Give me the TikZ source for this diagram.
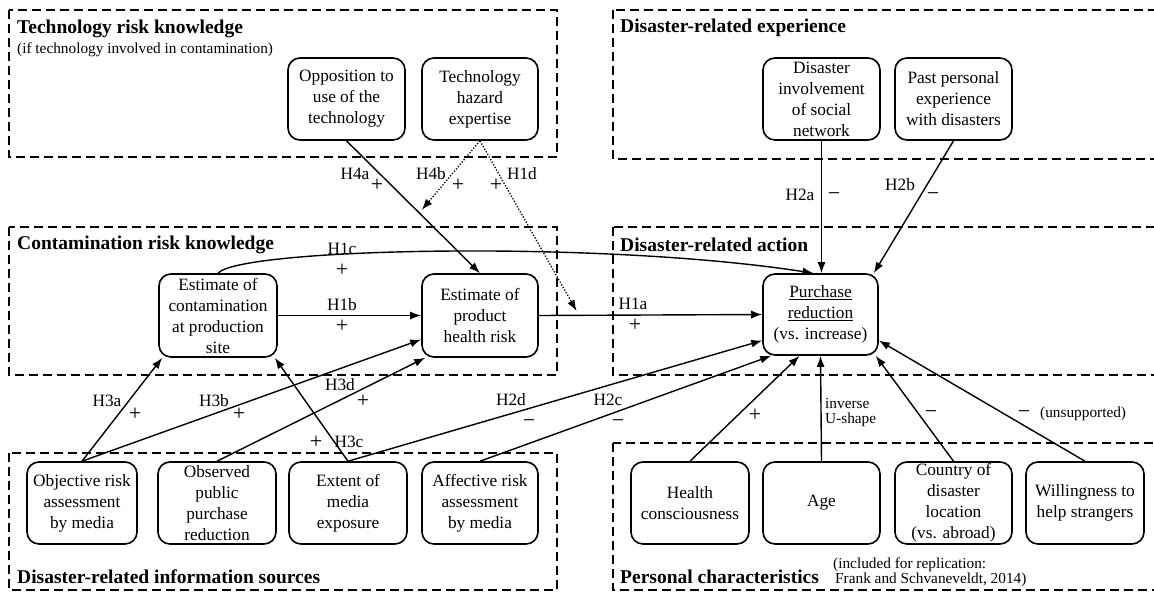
\documentclass[tikz,border=0pt]{standalone}
\usepackage{fontspec}
\setmainfont{Liberation Serif}
\usetikzlibrary{arrows.meta,calc}
\newcommand\nodefont{\fontsize{17.3}{21}\selectfont}
\newcommand\lblfont{\fontsize{17.3}{21}\selectfont}
\newcommand\sgnfont{\fontsize{22}{22}\selectfont}
\newcommand\ttlfont{\fontsize{19.5}{22}\selectfont\bfseries}
\newcommand\smlfont{\fontsize{15.3}{16}\selectfont}
\tikzset{
  grp/.style={draw, line width=1.2pt, dash pattern=on 9pt off 5pt},
  box/.style={draw, rounded corners=12pt, line width=1.6pt, minimum width=117pt,
    minimum height=82pt, inner sep=0pt, align=center, font=\nodefont},
  arr/.style={-{Latex[length=11pt,width=8pt]}, line width=1.4pt},
  darr/.style={-{Latex[length=11pt,width=8pt]}, line width=1.3pt, dash pattern=on 1.3pt off 1.7pt},
  lbl/.style={font=\lblfont, inner sep=0pt},
  sgn/.style={font=\sgnfont, inner sep=0pt},
  ttl/.style={font=\ttlfont, anchor=west, inner sep=0pt},
  sml/.style={font=\smlfont, inner sep=0pt, align=left, anchor=west},
}
\begin{document}
\begin{tikzpicture}[x=1pt,y=-1pt]
\useasboundingbox (0,0) rectangle (1154,592);
\fill[white] (0,0) rectangle (1154,592);

% group frames
\draw[grp] (9,10) rectangle (557,157);
\draw[grp] (613,10) rectangle (1170,159);
\draw[grp] (9,227) rectangle (557,375);
\draw[grp] (613,227) rectangle (1170,375);
\draw[grp] (9,453) rectangle (557,590);
\draw[grp] (613,443) rectangle (1170,590);

% titles
\node[ttl] (t1) at (17,29) {Technology risk knowledge};
\node[sml] (t1s) at (17,50) {(if technology involved in contamination)};
\node[ttl] (t2) at (620,28) {Disaster-related experience};
\node[ttl] (t3) at (17,245) {Contamination risk knowledge};
\node[ttl] (t4) at (620,245) {Disaster-related action};
\node[ttl] (t5) at (17,577) {Disaster-related information sources};
\node[ttl] (t6) at (620,577) {Personal characteristics};
\node[sml] (t6s) at (833,572) {(included for replication:\\[-1pt]\hspace*{2pt}Frank and Schvaneveldt, 2014)};

% nodes
\node[box] (opp) at (346.5,99) {Opposition to\\use of the\\technology};
\node[box, minimum width=116pt] (tech) at (480,99) {Technology\\hazard\\expertise};
\node[box] (dinv) at (821.5,99) {Disaster\\involvement\\of social\\network};
\node[box] (past) at (953.5,99) {Past personal\\experience\\with disasters};
\node[box, minimum width=118pt, minimum height=83pt] (cont) at (218,315.5) {Estimate of\\contamination\\at production\\site};
\node[box, minimum width=116pt, minimum height=83pt] (prod) at (480,315.5) {Estimate of\\product\\health risk};
\node[box, minimum width=115pt, minimum height=81pt] (pur) at (820.5,314.5) {\underline{Purchase}\\\underline{reduction}\\(vs. increase)};
\node[box, minimum width=110pt] (obj) at (82,503) {Objective risk\\assessment\\by media};
\node[box, minimum width=118pt] (obs) at (217,503) {Observed\\public\\purchase\\reduction};
\node[box, minimum width=118pt] (ext) at (348,503) {Extent of\\media\\exposure};
\node[box, minimum width=116pt] (aff) at (480,503) {Affective risk\\assessment\\by media};
\node[box, minimum width=118pt] (hlth) at (690,503) {Health\\consciousness};
\node[box] (age) at (821.5,503) {Age};
\node[box] (ctry) at (953.5,503) {Country of\\disaster\\location\\(vs. abroad)};
\node[box, minimum width=118pt] (will) at (1085,503) {Willingness to\\help strangers};

% helper coordinates on paths
\coordinate (m1) at ($(opp.south)!0.545!(prod.north)$);
\coordinate (m2) at ($(prod.east)!0.18!(pur.west)$);

% connectors
\draw[arr] (opp.south) -- (prod.north);
\draw[darr, shorten >=4pt] (tech.south) -- (m1);
\draw[darr, shorten >=5pt] (tech.south) -- (m2);
\draw[arr] (prod.east) -- (pur.west);
\draw[arr] (cont.east) -- (prod.west);
\draw[arr] (cont.north) .. controls (240,248) and (600,240) .. ($(pur.north)+(-7,0)$);
\draw[arr] (dinv.south) -- (dinv.south |- pur.north);
\draw[arr] (past.south) -- ($(pur.north east)+(-5,0)$);
\draw[arr] (obj.north) -- ($(cont.south west)+(4,0)$);
\draw[arr] (obj.north) -- ($(prod.west)+(0,24)$);
\draw[arr] (obs.north) -- ($(prod.south west)+(4,0)$);
\draw[arr] (ext.north) -- ($(cont.south east)+(-3,0)$);
\draw[arr] (ext.north) -- ($(pur.west)+(0,26)$);
\draw[arr] (aff.north) -- ($(pur.south west)+(9,0)$);
\draw[arr] (hlth.north) -- ($(pur.south)+(-21,0)$);
\draw[arr] (age.north) -- (pur.south);
\draw[arr] (ctry.north) -- ($(pur.south east)+(-3,0)$);
\draw[arr] (will.north) -- ($(pur.east)+(0,26)$);

% labels
\node[lbl] (l4a) at (355,174) {H4a};  \node[sgn] (s4a) at (377,185) {+};
\node[lbl] (l4b) at (431,174) {H4b};  \node[sgn] (s4b) at (458,185) {+};
\node[lbl] (l1d) at (522,174) {H1d};  \node[sgn] (s1d) at (496,185) {+};
\node[lbl] (l1c) at (342,249) {H1c};  \node[sgn] (s1c) at (342,270) {+};
\node[lbl] (l1b) at (342,305) {H1b};  \node[sgn] (s1b) at (342,326) {+};
\node[lbl] (l1a) at (633,304) {H1a};  \node[sgn] (s1a) at (635,325) {+};
\node[lbl] (l2a) at (800,195) {H2a};  \node[sgn] (s2a) at (834,197) {−};
\node[lbl] (l2b) at (900,185) {H2b};  \node[sgn] (s2b) at (933,197) {−};
\node[lbl] (l3a) at (107,401) {H3a};  \node[sgn] (s3a) at (135,414) {+};
\node[lbl] (l3b) at (214,401) {H3b};  \node[sgn] (s3b) at (239,414) {+};
\node[lbl] (l3d) at (340,385) {H3d};  \node[sgn] (s3d) at (363,401) {+};
\node[lbl] (l3c) at (349,442) {H3c};  \node[sgn] (s3c) at (316,442) {+};
\node[lbl] (l2d) at (511,400) {H2d};  \node[sgn] (s2d) at (529,424) {−};
\node[lbl] (l2c) at (608,400) {H2c};  \node[sgn] (s2c) at (618,424) {−};
\node[sgn] (shc) at (755,415) {+};
\node[sml] (lage) at (825,413) {inverse\\[-1pt]U-shape};
\node[sgn] (sct) at (931,415) {−};
\node[sgn] (swl) at (1024,415) {−};
\node[sml] (lwl) at (1040,414) {(unsupported)};
\end{tikzpicture}
\end{document}
